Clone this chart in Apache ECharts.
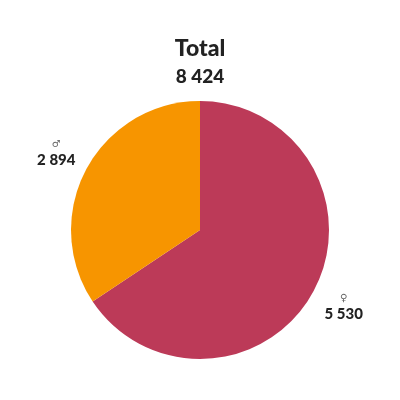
<!DOCTYPE html>
<html>
<head>
<meta charset="utf-8">
<script src="https://cdn.jsdelivr.net/npm/echarts@6/dist/echarts.min.js"></script>
<style>
  html, body { margin: 0; padding: 0; background: #fff; }
  #chart { width: 400px; height: 400px; }
</style>
</head>
<body>
<div id="chart"></div>
<script>
// 数据
var categories = ['♀', '♂'];
var values = [5530, 2894];
var colors = ['#bc3a58', '#f79500'];
var titleText = 'Total';

function fmt(n) {
	return String(n).replace(/\B(?=(\d{3})+(?!\d))/g, ' ');
}

var total = values.reduce(function (a, b) { return a + b; }, 0);

var pieData = categories.map(function (c, i) {
	return { name: c, value: values[i], itemStyle: { color: colors[i] } };
});

// 标签用的透明外环
var labelData = categories.map(function (c, i) {
	return { name: c, value: values[i] };
});

var myChar = echarts.init(document.getElementById('chart'));
var option = {
	backgroundColor: '#fff',
	animation: false,
	title: {
		text: titleText,
		subtext: fmt(total),
		left: 'center',
		top: 32,
		itemGap: 7,
		textStyle: {
			fontFamily: 'Lato',
			fontWeight: 900,
			fontSize: 23,
			color: '#222'
		},
		subtextStyle: {
			fontFamily: 'Lato',
			fontWeight: 900,
			fontSize: 19,
			color: '#222'
		}
	},
	series: [
		{
			type: 'pie',
			center: ['50%', 230],
			radius: 129,
			startAngle: 90,
			clockwise: true,
			data: pieData,
			label: { show: false },
			labelLine: { show: false },
			emphasis: { disabled: true }
		},
		{
			type: 'pie',
			center: ['50%', 230],
			radius: [150, 170],
			startAngle: 90,
			clockwise: true,
			silent: true,
			data: labelData,
			itemStyle: { color: 'rgba(0,0,0,0)' },
			label: {
				position: 'inside',
				formatter: function (p) {
					return '{s|' + p.name + '}\n{v|' + fmt(p.value) + '}';
				},
				rich: {
					s: { fontSize: 10, color: '#666', align: 'center', lineHeight: 15, fontFamily: 'DejaVu Sans' },
					v: { fontSize: 15, fontWeight: 900, color: '#222', align: 'center', lineHeight: 18, fontFamily: 'Lato' }
				}
			},
			labelLine: { show: false },
			emphasis: { disabled: true }
		}
	]
};
myChar.setOption(option);
</script>
</body>
</html>
